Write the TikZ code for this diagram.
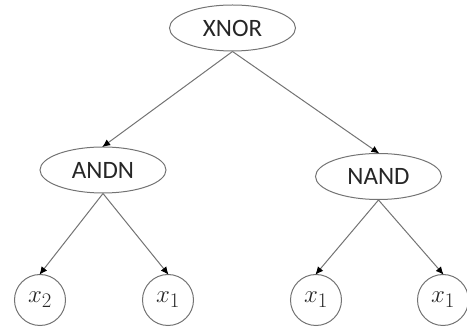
\documentclass[tikz,border=0pt]{standalone}
\usepackage{fontspec}
\setmainfont{Carlito}
\usetikzlibrary{shapes.geometric,arrows.meta}
\begin{document}
\begin{tikzpicture}[x=1pt,y=-1pt,
  edgecol/.style={draw=black!55, line width=1pt},
  opnode/.style={ellipse, edgecol, minimum width=126pt, minimum height=46pt,
    inner sep=0pt, font=\fontsize{25}{27}\selectfont, text=black!85},
  leaf/.style={circle, edgecol, minimum size=51pt, inner sep=0pt,
    font=\fontsize{28}{30}\selectfont, text=black!85},
  link/.style={edgecol, -{Latex[length=8pt,width=7pt,black]}, shorten >=-1pt}]
\useasboundingbox (0,0) rectangle (467,331);
\node[opnode] (xnor) at (232.5,28) {XNOR};
\node[opnode] (andn) at (103,170) {ANDN};
\node[opnode] (nand) at (378.5,176.5) {NAND};
\node[leaf] (l1) at (40,300) {$x_2$};
\node[leaf] (l2) at (168,300) {$x_1$};
\node[leaf] (l3) at (316,300) {$x_1$};
\node[leaf] (l4) at (443,300) {$x_1$};
\draw[link] (xnor.south) -- (andn.north);
\draw[link] (xnor.south) -- (nand.north);
\draw[link] (andn.south) -- (l1.north);
\draw[link] (andn.south) -- (l2.north);
\draw[link] (nand.south) -- (l3.north);
\draw[link] (nand.south) -- (l4.north);
\end{tikzpicture}
\end{document}
